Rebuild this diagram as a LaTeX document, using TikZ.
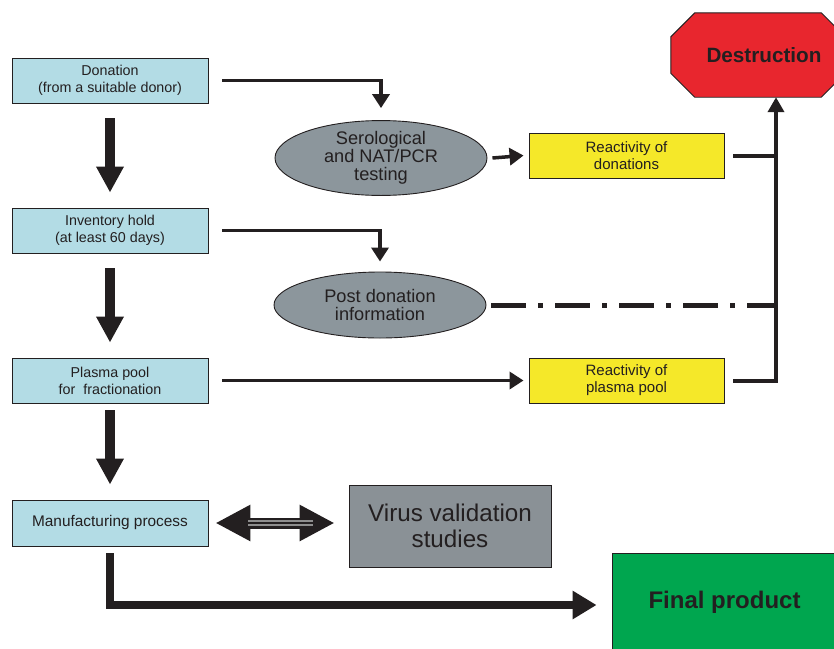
\documentclass[tikz,border=0pt]{standalone}
\usepackage{fontspec}
\setmainfont{Liberation Sans}
\usetikzlibrary{arrows.meta,shapes.geometric,calc,backgrounds}
\definecolor{txt}{HTML}{231F20}
\definecolor{lblue}{HTML}{B3DCE5}
\definecolor{yel}{HTML}{F5E829}
\definecolor{ellgray}{HTML}{8C969C}
\definecolor{boxgray}{HTML}{8A9196}
\definecolor{dred}{HTML}{E8262E}
\definecolor{dgreen}{HTML}{00A64F}
\definecolor{stripe}{HTML}{8E8E8E}
\tikzset{
  bluebox/.style={draw=txt, line width=0.9pt, fill=lblue, minimum width=196pt, minimum height=45pt, inner sep=0pt, align=center, text=txt, font=\fontsize{14.3}{17}\selectfont},
  yelbox/.style={draw=txt, line width=0.9pt, fill=yel, minimum width=195pt, minimum height=45pt, inner sep=0pt, align=center, text=txt, font=\fontsize{15}{17}\selectfont},
  ellbox/.style={ellipse, draw=txt, line width=0.9pt, fill=ellgray, minimum width=212pt, minimum height=66pt, inner sep=0pt, align=center, text=txt, font=\fontsize{18.2}{18}\selectfont},
  thinarrow/.style={draw=txt, line width=3.5pt, -{Triangle[length=14pt,width=17pt]}},
  thickarrow/.style={draw=txt, line width=10pt, -{Triangle[length=26pt,width=26pt]}},
  busline/.style={draw=txt, line width=4pt},
}
\begin{document}
\begin{tikzpicture}[x=1pt,y=-1pt]
\useasboundingbox (0,0) rectangle (834,648);

% left column
\node[bluebox] (don) at (110,80.5) {Donation\\(from a suitable donor)};
\node[bluebox] (inv) at (110,230.5) {Inventory hold\\(at least 60 days)};
\node[bluebox] (pp) at (110,380.5) {Plasma pool\\for\ \ fractionation};
\node[bluebox, minimum height=46pt, font=\fontsize{15.4}{17}\selectfont] (mp) at (110,523) {Manufacturing process};

% ellipses
\node[ellbox] (ser) at (381,158) {Serological\\and NAT/PCR\\testing};
\node[ellbox] (pd) at (380,305) {Post donation\\information};

% yellow boxes
\node[yelbox] (rd) at (626.5,155.5) {Reactivity of\\donations};
\node[yelbox] (rp) at (626.5,380.5) {Reactivity of\\plasma pool};

% virus validation
\node[draw=txt, line width=0.9pt, fill=boxgray, minimum width=202pt, minimum height=82pt, inner sep=0pt, align=center, text=txt, font=\fontsize{24.2}{26.5}\selectfont] (vv) at (450,526) {Virus validation\\studies};

% destruction
\node[minimum width=174pt, minimum height=84pt, inner sep=0pt, text=txt, font=\fontsize{20.7}{24}\selectfont\bfseries] (dest) at (758,55) {\hspace*{12pt}Destruction};
\begin{scope}[on background layer]
\filldraw[fill=dred, draw=txt, line width=0.9pt]
  ($(dest.north west)+(24,0)$) -- ($(dest.north east)+(-24,0)$) -- ($(dest.north east)+(0,24)$)
  -- ($(dest.south east)+(0,-24)$) -- ($(dest.south east)+(-24,0)$) -- ($(dest.south west)+(24,0)$)
  -- ($(dest.south west)+(0,-24)$) -- ($(dest.north west)+(0,24)$) -- cycle;
\end{scope}

% final product
\node[draw=txt, line width=0.9pt, fill=dgreen, minimum width=225pt, minimum height=98pt, inner sep=0pt, text=txt, font=\fontsize{24}{26}\selectfont\bfseries] (fp) at (724.5,602) {Final product};

% thick down arrows
\draw[thickarrow] ([yshift=-15pt]don.south) -- ([yshift=15pt]inv.north);
\draw[thickarrow] ([yshift=-15pt]inv.south) -- ([yshift=15pt]pp.north);
\draw[thickarrow] ([yshift=-7pt]pp.south) -- ([yshift=15pt]mp.north);

% thin arrows
\draw[thinarrow] ([xshift=14pt]don.east) -| ([yshift=12pt]ser.north);
\draw[thinarrow] ([xshift=14pt]inv.east) -| ([yshift=10pt]pd.north);
\draw[thinarrow] ([xshift=5pt]ser.east) -- ([xshift=-5pt]rd.west);
\draw[thinarrow] ([xshift=14pt,yshift=0pt]pp.east) -- ([xshift=-5pt]rp.west);

% bus to destruction
\coordinate (bus) at (776,300);
\draw[busline] ([xshift=9pt]rd.east) -- (rd.east -| bus);
\draw[busline, -{Triangle[length=15pt,width=16pt]}] ([xshift=9pt]rp.east) -| ([xshift=18pt]dest.south);
\draw[draw=txt, line width=5pt, dash pattern=on 35pt off 12pt on 5pt off 12pt] ([xshift=5pt]pd.east) -- (pd.east -| bus);

% double arrow
\draw[draw=txt, line width=11pt, {Triangle[length=35pt,width=34pt]}-{Triangle[length=35pt,width=34pt]}, shorten <=7pt, shorten >=14pt] (mp.east) -- (mp.east -| vv.west);
\draw[draw=stripe, line width=6.5pt] ([xshift=40pt]mp.east) -- ([xshift=-36pt]mp.east -| vv.west);
\draw[draw=txt, line width=2pt] ([xshift=40pt]mp.east) -- ([xshift=-36pt]mp.east -| vv.west);

% bottom arrow
\draw[draw=txt, line width=8pt, -{Triangle[length=24pt,width=27pt]}] ([yshift=-7pt]mp.south) |- ([xshift=-15pt,yshift=-3pt]fp.west);
\end{tikzpicture}
\end{document}
